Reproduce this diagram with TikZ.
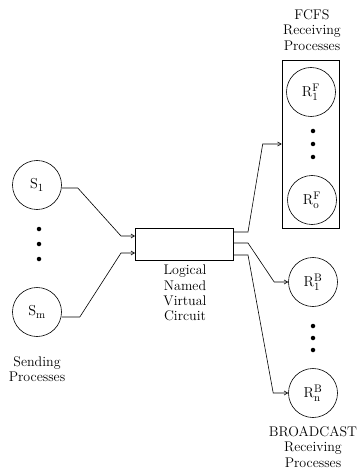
\documentclass[tikz,border=0pt]{standalone}
\usetikzlibrary{arrows.meta}
\DeclareMathSizes{14}{14}{11}{9}
\begin{document}
\begin{tikzpicture}[x=1pt,y=-1pt,
  every node/.style={font=\fontsize{14}{15.3}\selectfont},
  proc/.style={draw,circle,minimum size=49pt,inner sep=0pt,line width=0.6pt},
  lbl/.style={align=center,inner sep=0pt},
  conn/.style={line width=0.6pt,-{Straight Barb[length=3.5pt,width=4pt]}},
  dotnode/.style={circle,fill=black,minimum size=4.5pt,inner sep=0pt}]
\useasboundingbox (0,0) rectangle (360,470);
% sending processes
\node[proc] (s1) at (37,185) {$\mathrm{S}_1$};
\node[proc] (sm) at (37,312) {$\mathrm{S}_\mathrm{m}$};
\node[dotnode] (d1) at (39,229) {};
\node[dotnode] (d2) at (39,244) {};
\node[dotnode] (d3) at (39,259) {};
\node[lbl] (sendlbl) at (37,369) {Sending\\Processes};
% virtual circuit
\node[draw,line width=0.6pt,minimum width=98pt,minimum height=32pt,inner sep=0pt] (vc) at (184,244) {};
\node[lbl] (vclbl) at (185,293) {Logical\\Named\\Virtual\\Circuit};
\coordinate (in1) at (135,236);
\coordinate (in2) at (135,253);
\coordinate (out1) at (233,232);
\coordinate (out2) at (233,243);
\coordinate (out3) at (233,255);
% FCFS group
\node[draw,line width=0.6pt,minimum width=57pt,minimum height=168pt,inner sep=0pt] (fcfs) at (310.5,144) {};
\node[proc] (rf1) at (311,92) {$\mathrm{R}^\mathrm{F}_1$};
\node[proc] (rfo) at (312,200) {$\mathrm{R}^\mathrm{F}_\mathrm{o}$};
\node[dotnode] (d4) at (313,131) {};
\node[dotnode] (d5) at (313,144) {};
\node[dotnode] (d6) at (313,157) {};
\node[lbl] (fcfslbl) at (312,30) {FCFS\\Receiving\\Processes};
% broadcast group
\node[proc] (rb1) at (313,282) {$\mathrm{R}^\mathrm{B}_1$};
\node[proc] (rbn) at (313,393) {$\mathrm{R}^\mathrm{B}_\mathrm{n}$};
\node[dotnode] (d7) at (313,326) {};
\node[dotnode] (d8) at (313,338) {};
\node[dotnode] (d9) at (313,350) {};
\node[lbl] (bclbl) at (313,447) {BROADCAST\\Receiving\\Processes};
% connectors
\draw[conn] ([yshift=-3pt]s1.east) -- ++(16,0) -- ([xshift=-14pt]in1) -- (in1);
\draw[conn] ([yshift=-5pt]sm.east) -- ++(18,0) -- ([xshift=-14pt]in2) -- (in2);
\draw[conn] (out1) -- ++(15,0) -- ([xshift=-19pt]fcfs.west) -- (fcfs.west);
\draw[conn] (out2) -- ++(15,0) -- ([xshift=-14pt]rb1.west) -- (rb1.west);
\draw[conn] (out3) -- ++(15,0) -- ([xshift=-15pt]rbn.west) -- (rbn.west);
\end{tikzpicture}
\end{document}
